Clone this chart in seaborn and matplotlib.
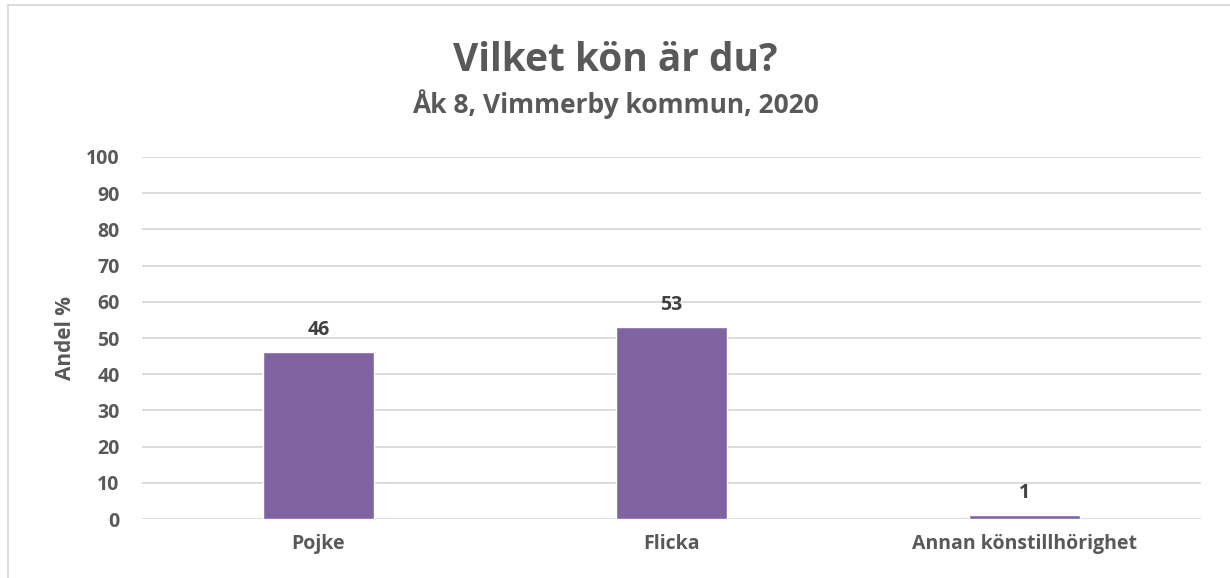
import matplotlib
matplotlib.use("Agg")
import matplotlib.pyplot as plt
import seaborn as sns
import pandas as pd
from matplotlib.patches import Rectangle

# Data
categories = ["Pojke", "Flicka", "Annan könstillhörighet"]
values = [46, 53, 1]
yticks = list(range(0, 101, 10))

sns.set_theme(style="white")
plt.rcParams["font.family"] = ["Open Sans", "DejaVu Sans"]

df = pd.DataFrame({"kon": categories, "andel": values})

fig = plt.figure(figsize=(12.3, 5.78), dpi=100)
ax = fig.add_axes([0.1154, 0.102, 0.861, 0.6264])

sns.barplot(data=df, x="kon", y="andel", color="#8064A2", width=0.315,
            saturation=1, ax=ax, zorder=3)

ax.set_ylim(0, 100)
ax.set_yticks(yticks)
ax.grid(axis="y", color="#D9D9D9", linewidth=1.3, zorder=0)
ax.set_axisbelow(True)
for s in ax.spines.values():
    s.set_visible(False)
ax.tick_params(axis="both", length=0, labelsize=14, labelcolor="#595959")
for lbl in ax.get_xticklabels() + ax.get_yticklabels():
    lbl.set_fontweight("bold")
ax.tick_params(axis="y", pad=16)
ax.tick_params(axis="x", pad=11)
ax.set_xlabel("")
ax.set_ylabel("Andel %", fontsize=15, fontweight="bold", color="#595959", labelpad=7)

# data labels
for i, v in enumerate(values):
    ax.text(i, v + 4.7, str(v), ha="center", va="baseline", fontsize=14,
            fontweight="bold", color="#404040")

fig.text(0.5, 0.878, "Vilket kön är du?", ha="center", va="baseline",
         fontsize=28, fontweight="bold", color="#595959")
fig.text(0.5, 0.804, "Åk 8, Vimmerby kommun, 2020", ha="center", va="baseline",
         fontsize=19, fontweight="bold", color="#595959")

# chart border
fig.patches.append(Rectangle((8 / 1230, -0.01), 1.02, 1 - 5 / 578 + 0.01,
                             transform=fig.transFigure, fill=False,
                             edgecolor="#D9D9D9", linewidth=1.3))

fig.savefig("out.png", dpi=100, facecolor="white")
